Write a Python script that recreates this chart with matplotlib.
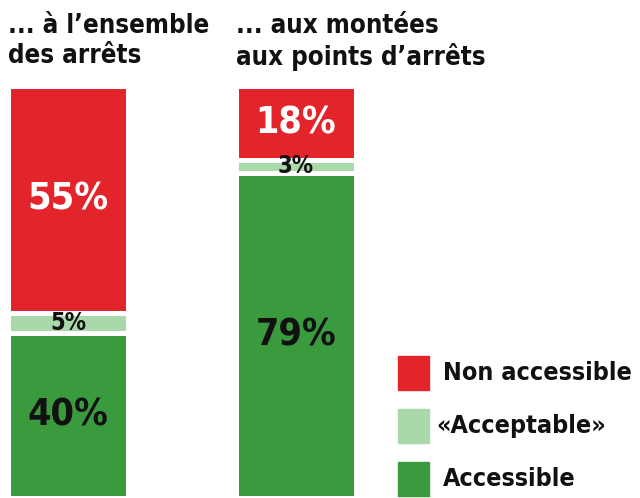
import matplotlib
matplotlib.use("Agg")
import matplotlib.pyplot as plt
from matplotlib.patches import Rectangle
import numpy as np

plt.rcParams['font.family'] = ['DejaVu Sans']
plt.rcParams['font.stretch'] = 'condensed'
plt.rcParams['font.weight'] = 'bold'

# données
groupes = ["... à l\u2019ensemble\ndes arrêts", "... aux montées\naux points d\u2019arrêts"]
categories = ["Accessible", "\u00abAcceptable\u00bb", "Non accessible"]
accessible = [40, 79]
acceptable = [5, 3]
non_accessible = [55, 18]

couleurs = ["#3a9a3e", "#a9d8aa", "#e3242b"]
couleurs_texte = ["#111111", "#111111", "white"]

W, H = 640, 498
fig = plt.figure(figsize=(W / 100, H / 100), dpi=100)
ax = fig.add_axes([0, 0, 1, 1 - 86 / H])
largeur = 120 / 228
ax.set_xlim(-68 / 228, (W - 68) / 228)
ax.set_ylim(0, 100)
ax.axis("off")

x = np.arange(len(groupes))
series = [accessible, acceptable, non_accessible]
bas = np.zeros(len(groupes))
for vals, c, ct in zip(series, couleurs, couleurs_texte):
    vals = np.array(vals, dtype=float)
    ax.bar(x, vals, bottom=bas, width=largeur, color=c,
           edgecolor="white", linewidth=3.6)
    for xi, b, v in zip(x, bas, vals):
        size = 27 if v > 10 else 17
        ax.text(xi, b + v / 2, f"{int(v)}%", ha="center", va="center",
                color=ct, fontsize=size, fontweight="bold")
    bas += vals

# titres
for xi, g in zip(x, groupes):
    xp = ax.transData.transform((xi - largeur / 2, 0))[0] / W
    fig.text(xp, 1 - 13 / H, g, ha="left", va="top", fontsize=18.5,
             fontweight="bold", color="#111111", linespacing=1.2)

# légende
leg_y = [373, 426, 479]
for cat, c, yy in zip(categories[::-1], couleurs[::-1], leg_y):
    fig.patches.append(Rectangle((398 / W, 1 - (yy + 17) / H), 31 / W, 34 / H,
                                 transform=fig.transFigure, color=c))
    xt = 436 if cat.startswith("\u00ab") else 443
    fig.text(xt / W, 1 - yy / H, cat, ha="left", va="center", fontsize=18,
             fontweight="bold", color="#111111")

fig.savefig("out.png", dpi=100)
